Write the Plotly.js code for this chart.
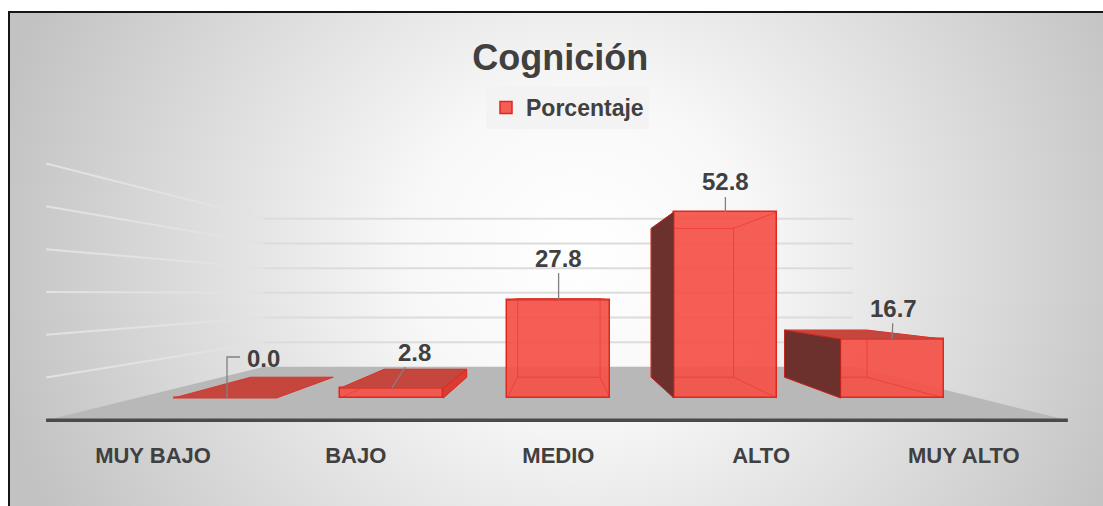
<!DOCTYPE html>
<html><head><meta charset="utf-8">
<script src="https://cdn.plot.ly/plotly-3.0.1.min.js"></script>
<style>
html,body{margin:0;padding:0;background:#fff;width:1103px;height:506px;overflow:hidden}
#frame{position:absolute;left:8px;top:11px;width:1095px;height:495px;border-top:2px solid #151515;border-left:2px solid #151515;
background:radial-gradient(ellipse 600px 560px at 52% 48%, #ffffff 0%, #f8f8f8 28%, #c2c2c2 100%);}
#chart{position:absolute;left:0;top:0;width:1103px;height:506px}
</style></head><body>
<div id="frame"></div><div id="chart"></div>
<script>
// ---- data ----
const categories = ['MUY BAJO', 'BAJO', 'MEDIO', 'ALTO', 'MUY ALTO'];
const values = [0.0, 2.8, 27.8, 52.8, 16.7];
const valueLabels = ['0.0', '2.8', '27.8', '52.8', '16.7'];
const seriesName = 'Porcentaje';
const chartTitle = 'Cognición';
const gridValues = [10, 20, 30, 40, 50, 60];

(function () {
// ---- geometry (style) ----
const W = 1103, H = 506;
const X0 = 225, DX = 166.8, Y0 = 398, DY = 3.523;
const xRange = [-X0 / DX, (W - X0) / DX];
const yRange = [(Y0 - H) / DY, Y0 / DY];
const VX = (560 - X0) / DX, VY = (Y0 - 294) / DY;
const S_BACK = 0.8, S_WALL = 0.7, S_FLOOR = 1.215;
const BW = 0.6175;
const XL = (137 - X0) / DX, XR = (978 - X0) / DX;
function proj(x, v, s) { return [VX + s * (x - VX), VY + s * (v - VY)]; }

const FONT = 'Liberation Sans, Arial, sans-serif';
const TXT = '#404040';

const idx = categories.map((_, i) => i);
const topF = {x: [], y: []}, lside = {x: [], y: []}, rside = {x: [], y: []}, backE = {x: [], y: []};
function addPoly(o, pts) {
  pts.forEach(p => { o.x.push(p[0]); o.y.push(p[1]); });
  o.x.push(pts[0][0]); o.y.push(pts[0][1]); o.x.push(null); o.y.push(null);
}
function addSeg(o, a, b) { o.x.push(a[0], b[0], null); o.y.push(a[1], b[1], null); }
values.forEach((v, i) => {
  const xl = i - BW / 2, xr = i + BW / 2;
  const fl0 = [xl, 0], fr0 = [xr, 0], flv = [xl, v], frv = [xr, v];
  const B = p => proj(p[0], p[1], S_BACK);
  if (v < VY) addPoly(topF, [flv, frv, B(frv), B(flv)]);
  if (xr < VX && v > 0) addPoly(rside, [fr0, frv, B(frv), B(fr0)]);
  if (xl > VX && v > 0) addPoly(lside, [fl0, flv, B(flv), B(fl0)]);
  if (v > 0) {
    addSeg(backE, B(fl0), B(fr0)); addSeg(backE, B(fr0), B(frv));
    addSeg(backE, B(frv), B(flv)); addSeg(backE, B(flv), B(fl0));
    addSeg(backE, fl0, B(fl0)); addSeg(backE, fr0, B(fr0));
    addSeg(backE, frv, B(frv)); addSeg(backE, flv, B(flv));
  }
});

const traces = [
  {type: 'bar', x: idx, y: values, width: BW, name: '<b>' + seriesName + '</b>',
   marker: {color: 'rgba(244,80,70,0.92)', line: {color: '#e1261d', width: 1.5}},
   hovertext: categories, hoverinfo: 'text+y', showlegend: true},
  {type: 'scatter', mode: 'lines', x: backE.x, y: backE.y, line: {color: 'rgba(235,45,35,0.55)', width: 1},
   hoverinfo: 'skip', showlegend: false},
  {type: 'scatter', mode: 'lines', x: topF.x, y: topF.y, fill: 'toself', fillcolor: '#c5463d',
   line: {color: '#d8342b', width: 1}, hoverinfo: 'skip', showlegend: false},
  {type: 'scatter', mode: 'lines', x: rside.x, y: rside.y, fill: 'toself', fillcolor: '#d93c33',
   line: {color: '#e0281f', width: 1}, hoverinfo: 'skip', showlegend: false},
  {type: 'scatter', mode: 'lines', x: lside.x, y: lside.y, fill: 'toself', fillcolor: '#6d312d',
   line: {color: '#c3261e', width: 1}, hoverinfo: 'skip', showlegend: false},
  {type: 'scatter', mode: 'markers', x: idx, y: idx.map(() => null), xaxis: 'x2', yaxis: 'y',
   hoverinfo: 'skip', showlegend: false}
];

function path(pts, close) {
  return pts.map((p, k) => (k ? 'L' : 'M') + p[0] + ',' + p[1]).join(' ') + (close ? ' Z' : '');
}
const shapes = [];
shapes.push({type: 'path', xref: 'x', yref: 'y', layer: 'below', line: {width: 0}, fillcolor: '#b8b8b8',
  path: path([proj(XL, 0, S_WALL), proj(XR, 0, S_WALL), proj(XR, 0, S_FLOOR), proj(XL, 0, S_FLOOR)], true)});
{
  const a = proj(XL, 0, S_FLOOR), b = proj(XR, 0, S_FLOOR);
  shapes.push({type: 'line', xref: 'x', yref: 'y', layer: 'below', x0: a[0], y0: a[1], x1: b[0], y1: b[1],
    line: {color: '#4a4a4a', width: 3.5}});
}
gridValues.forEach(g => {
  const a = proj(XL, g, S_WALL), b = proj(XR, g, S_WALL), c = proj(XL, g, S_FLOOR);
  shapes.push({type: 'line', xref: 'x', yref: 'y', layer: 'below', x0: a[0], y0: a[1], x1: b[0], y1: b[1],
    line: {color: '#dcdcdc', width: 2}});
  shapes.push({type: 'line', xref: 'x', yref: 'y', layer: 'below', x0: c[0], y0: c[1], x1: a[0], y1: a[1],
    line: {color: '#e2e2e2', width: 2}});
});
shapes.push({type: 'path', xref: 'x', yref: 'y', xsizemode: 'pixel', ysizemode: 'pixel', xanchor: 0, yanchor: values[0],
  path: 'M2,0 L2,41 L15,41', line: {color: '#808080', width: 1.3}});

const labelOffsets = [[38, -40], [23, -36], [0, -42], [0, -30], [1, -31]];
const annotations = values.map((v, i) => {
  const a = {x: i, y: v, xref: 'x', yref: 'y', text: '<b>' + valueLabels[i] + '</b>',
    font: {family: FONT, size: 24, color: TXT}};
  if (i === 0) {
    return Object.assign(a, {showarrow: false, xshift: labelOffsets[i][0], yshift: -labelOffsets[i][1]});
  }
  return Object.assign(a, {showarrow: true, arrowhead: 0, arrowwidth: 1.3, arrowcolor: '#808080',
    ax: labelOffsets[i][0], ay: labelOffsets[i][1], standoff: 0});
});

const layout = {
  width: W, height: H, autosize: false,
  margin: {l: 0, r: 0, t: 0, b: 0, pad: 0},
  paper_bgcolor: 'rgba(0,0,0,0)', plot_bgcolor: 'rgba(0,0,0,0)',
  title: {text: '<b>' + chartTitle + '</b>', font: {family: FONT, size: 36, color: TXT},
    x: 0.508, xanchor: 'center', y: 1 - 57 / H, yanchor: 'middle'},
  showlegend: true,
  legend: {x: 486 / W, y: 1 - 86 / H, xanchor: 'left', yanchor: 'top', bgcolor: '#f3f3f3', borderwidth: 0,
    font: {family: FONT, size: 23, color: TXT}},
  xaxis: {range: xRange, showgrid: false, zeroline: false, showticklabels: false, showline: false, ticks: '', fixedrange: true},
  xaxis2: {overlaying: 'x', anchor: 'free', position: (H - 440) / H, range: [-153 / 202.7, (W - 153) / 202.7],
    tickmode: 'array', tickvals: idx, ticktext: categories.map(c => '<b>' + c + '</b>'),
    showgrid: false, zeroline: false, showline: false, ticks: '',
    tickfont: {family: FONT, size: 22, color: TXT}, fixedrange: true, side: 'bottom'},
  yaxis: {range: yRange, showgrid: false, zeroline: false, showticklabels: false, showline: false, ticks: '', fixedrange: true},
  shapes: shapes,
  annotations: annotations,
  bargap: 0
};
Plotly.newPlot('chart', traces, layout, {displayModeBar: false});
})();
</script>
</body></html>
